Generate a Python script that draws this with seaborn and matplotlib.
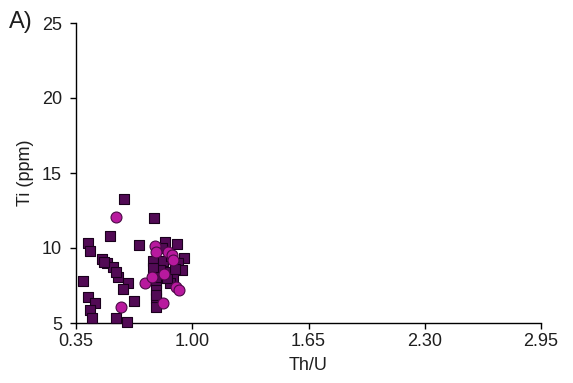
import matplotlib
matplotlib.use("Agg")
import matplotlib.pyplot as plt
import seaborn as sns
import pandas as pd

sq_x = [0.618, 0.784, 0.540, 0.415, 0.428, 0.700, 0.493, 0.521, 0.558, 0.586,
        0.642, 0.614, 0.391, 0.419, 0.456, 0.428, 0.437, 0.571, 0.636, 0.674,
        0.847, 0.915, 0.953, 0.778, 0.837, 0.921, 0.945, 0.865, 0.819, 0.781,
        0.893, 0.837, 0.800, 0.875, 0.800, 0.800, 0.800, 0.860, 0.880, 0.830,
        0.905, 0.800, 0.800, 0.575, 0.505]
sq_y = [13.25, 12.02, 10.80, 10.35, 9.80, 10.18, 9.27, 8.98, 8.71, 8.09,
        7.69, 7.27, 7.82, 6.71, 6.36, 5.87, 5.36, 5.36, 5.09, 6.49,
        10.42, 10.27, 9.31, 9.13, 9.13, 8.98, 8.53, 8.42, 8.53, 8.64,
        7.98, 7.98, 7.64, 7.64, 7.20, 6.64, 6.09, 8.00, 9.50, 10.00,
        8.60, 6.90, 8.10, 8.40, 9.10]

ci_x = [0.573, 0.601, 0.735, 0.790, 0.800, 0.865, 0.884, 0.893, 0.908, 0.925,
        0.834, 0.774, 0.840]
ci_y = [12.09, 6.09, 7.69, 10.13, 9.75, 9.75, 9.53, 9.20, 7.42, 7.20,
        6.35, 8.07, 8.30]

x_ticks = [0.35, 1.00, 1.65, 2.30, 2.95]
y_ticks = [5, 10, 15, 20, 25]

sns.set_style("ticks")
plt.rcParams['font.family'] = ['Liberation Sans', 'DejaVu Sans']

txt = "#1e1e1e"
fig = plt.figure(figsize=(5.73, 3.83), dpi=100)
ax = fig.add_axes([76/573, 1-323/383, (541-76)/573, 300/383])

df_sq = pd.DataFrame({"x": sq_x, "y": sq_y})
df_ci = pd.DataFrame({"x": ci_x, "y": ci_y})

sns.scatterplot(data=df_sq, x="x", y="y", marker="s", s=62, color="#520a55",
                edgecolor="#1a001c", linewidth=0.8, ax=ax, zorder=3)
sns.scatterplot(data=df_ci, x="x", y="y", marker="o", s=62, color="#b8199e",
                edgecolor="#4a0a45", linewidth=0.8, ax=ax, zorder=4)

ax.set_xlim(0.35, 2.95)
ax.set_ylim(5, 25)
ax.set_xticks(x_ticks)
ax.set_xticklabels([f"{v:.2f}" for v in x_ticks])
ax.set_yticks(y_ticks)
ax.set_yticklabels([str(v) for v in y_ticks])
ax.tick_params(axis='both', direction='out', length=4, width=1, color='black',
               labelcolor=txt, labelsize=13)
ax.tick_params(axis='x', pad=3)
ax.tick_params(axis='y', pad=6)
for s in ['top', 'right']:
    ax.spines[s].set_visible(False)
for s in ['left', 'bottom']:
    ax.spines[s].set_color('black')
    ax.spines[s].set_linewidth(1)
ax.set_xlabel("Th/U", fontsize=13, labelpad=5, color=txt)
ax.set_ylabel("Ti (ppm)", fontsize=13, labelpad=6, color=txt)
for c in ax.collections:
    c.set_clip_on(False)

fig.text(9/573, 1-28/383, "A)", fontsize=17, ha='left', va='baseline', color=txt)

fig.savefig("out.png", dpi=100)
